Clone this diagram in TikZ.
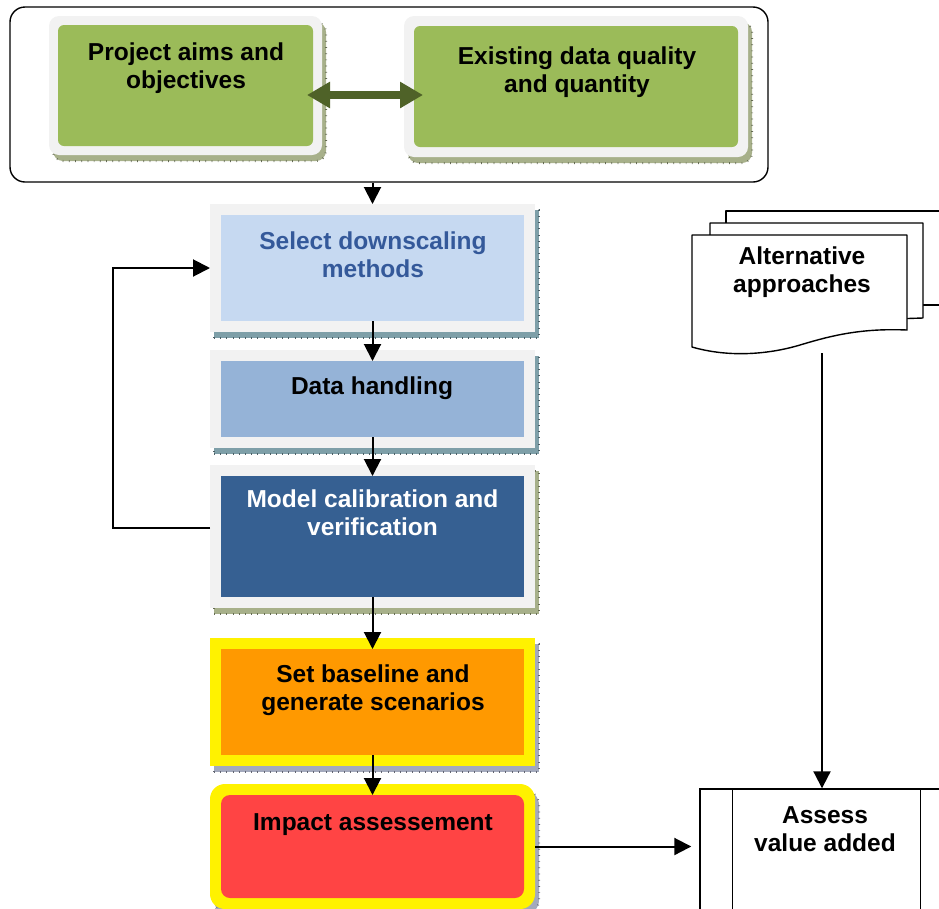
\documentclass[tikz,border=0pt]{standalone}
\usepackage{fontspec}
\setmainfont{Liberation Sans}
\usetikzlibrary{positioning,fit,backgrounds,shadows,arrows.meta}

\definecolor{leaf}{HTML}{9BBB59}
\definecolor{leafdark}{HTML}{4F6228}
\definecolor{rim}{HTML}{F2F2F2}
\definecolor{skyblue}{HTML}{C6D9F1}
\definecolor{midblue}{HTML}{95B3D7}
\definecolor{deepblue}{HTML}{366092}
\definecolor{inkblue}{HTML}{34599A}
\definecolor{amber}{HTML}{FF9900}
\definecolor{signal}{HTML}{FF4444}
\definecolor{olivesh}{HTML}{A7B08A}
\definecolor{tealsh}{HTML}{7E9FA8}
\definecolor{slatesh}{HTML}{A3A9BC}

\tikzset{
  stage/.style={inner sep=0pt, outer sep=0pt, minimum width=303pt},
  greenbox/.style={stage, fill=leaf, rounded corners=6pt},
  ticked/.style={drop shadow={shadow xshift=4pt, shadow yshift=-6pt, fill=#1, opacity=1},
    general shadow={shadow xshift=4pt, shadow yshift=-6pt, draw=#1!60!black,
      line width=2pt, dash pattern=on 0.7pt off 5.5pt}},
  rimframe/.style={fill=rim, inner sep=#1, outer sep=0pt},
  caption/.style={anchor=north, align=center, inner sep=0pt,
    font=\bfseries\fontsize{24.5pt}{28pt}\selectfont},
  flow/.style={line width=2pt, -{Triangle[length=17pt,width=17pt]}},
  link/.style={leafdark, line width=8pt,
    {Triangle[length=23pt,width=25pt]}-{Triangle[length=23pt,width=25pt]}},
  sheet/.style={fill=white, draw=black, line width=1.4pt, line join=round}
}

\begin{document}
\begin{tikzpicture}[x=1pt, y=-1pt]
\useasboundingbox (0,0) rectangle (939,908);
\clip (0,0) rectangle (939,908);

% inputs
\node[draw, line width=1.4pt, rounded corners=15pt, minimum width=758pt,
  minimum height=175pt, inner sep=0pt] (inputs) at (389,94.5) {};
\node[greenbox, minimum width=255pt, minimum height=121pt] (aims) at (185.5,85.5) {};
\node[greenbox, minimum width=324pt, minimum height=121pt] (quality) at (576,86.5) {};

% main chain
\node[stage, fill=skyblue, minimum height=106pt] (select) at (372.5,268) {};
\node[stage, fill=midblue, minimum height=76pt] (handling) at (372.5,399) {};
\node[stage, fill=deepblue, minimum height=121pt] (calib) at (372.5,536.5) {};
\node[stage, fill=amber, minimum height=106pt] (baseline) at (372.5,702) {};
\node[stage, fill=signal, rounded corners=9pt, minimum height=103pt] (impact) at (372.5,846.5) {};

\begin{scope}[on background layer]
  \node[rimframe=9pt, rounded corners=10pt, ticked=olivesh, fit=(aims)] (aimsrim) {};
  \node[rimframe=10pt, rounded corners=10pt, ticked=olivesh, fit=(quality)] (qualityrim) {};
  \node[rimframe=11pt, ticked=tealsh, fit=(select)] (selectrim) {};
  \node[rimframe=11pt, ticked=tealsh, fit=(handling)] (handlingrim) {};
  \node[rimframe=11pt, ticked=olivesh, fit=(calib)] (calibrim) {};
  \node[rimframe=11pt, fill=yellow, ticked=slatesh, fit=(baseline)] (baselinerim) {};
  \node[rimframe=11pt, fill=yellow, rounded corners=15pt, ticked=slatesh, fit=(impact)] (impactrim) {};
\end{scope}

\node[caption] (aimstext) at (186,43) {Project aims and\\objectives};
\node[caption] (qualitytext) at (577,47) {Existing data quality\\and quantity};
\node[caption, text=inkblue] (selecttext) at (373,232) {Select downscaling\\methods};
\node[caption] (handlingtext) at (372,377) {Data handling};
\node[caption, text=white] (calibtext) at (372.5,490) {Model calibration and\\verification};
\node[caption] (baselinetext) at (373,665) {Set baseline and\\generate scenarios};
\node[caption] (impacttext) at (373,813) {Impact assessement};

% stacked documents
\draw[sheet] (726,305) -- (726,211) -- (960,211) -- (960,305) -- cycle;
\draw[sheet] (710,325) -- (710,223) -- (923,223) -- (923,318) -- cycle;
\draw[sheet] (692,235) -- (907,235) -- (907,330)
  .. controls (860,328) and (830,336) .. (800,345)
  .. controls (770,354) and (730,358) .. (692,347) -- cycle;
\node[caption] (alttext) at (802,247) {Alternative\\approaches};
\coordinate (altfoot) at (822,353);

% value added
\node[draw, line width=1.4pt, minimum width=253pt, minimum height=150pt,
  inner sep=0pt] (assess) at (826.5,864) {};
\draw[line width=1.4pt] ([xshift=33pt]assess.north west) -- ([xshift=33pt]assess.south west);
\draw[line width=1.4pt] ([xshift=-33pt]assess.north east) -- ([xshift=-33pt]assess.south east);
\node[caption] (assesstext) at (825,806) {Assess\\value added};

% connectors
\draw[link] ([xshift=-6pt,yshift=-9.5pt]aims.east) -- ([xshift=9pt,yshift=-8.5pt]quality.west);
\draw[flow] (inputs.south -| select) -- (selectrim.north);
\draw[flow] (select.south) -- (handling.north);
\draw[flow] (handling.south) -- (calib.north);
\draw[flow] (calib.south) -- (baseline.north);
\draw[flow] (baseline.south) -- (impact.north);
\coordinate (loopx) at (113,0);
\draw[flow] ([yshift=8.5pt]calibrim.west) -- ([yshift=8.5pt]calibrim.west -| loopx) |- (selectrim.west);
\draw[flow, shorten >=8pt] (impactrim.east) -- (impactrim.east -| assess.west);
\draw[flow] (altfoot) -- (altfoot |- assess.north);
\end{tikzpicture}
\end{document}
